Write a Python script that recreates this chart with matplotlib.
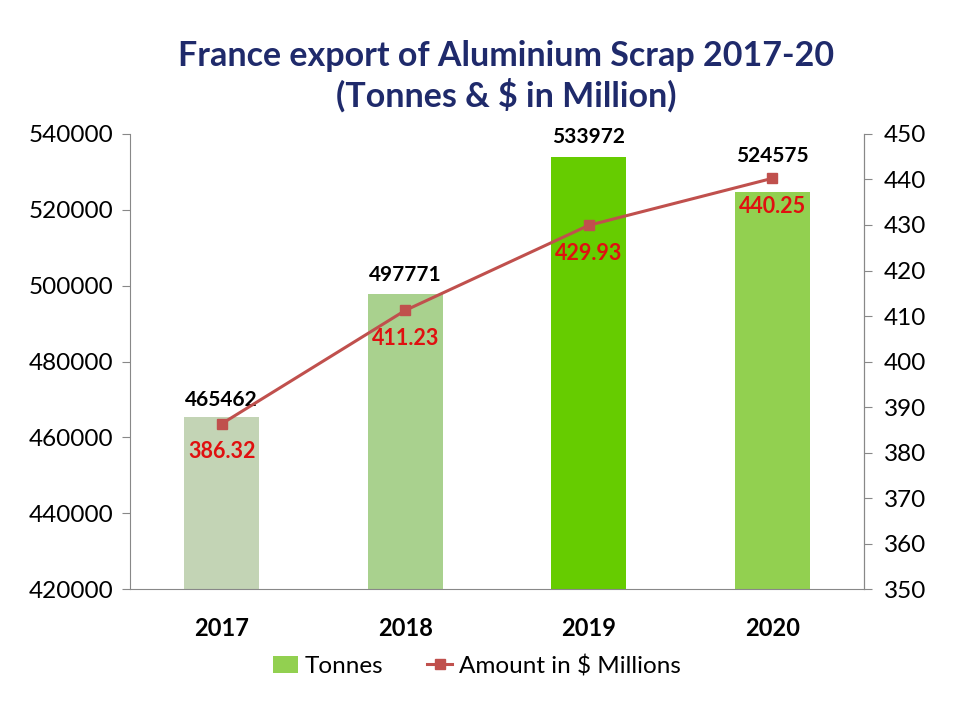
import matplotlib.pyplot as plt
from matplotlib.lines import Line2D
from matplotlib.patches import Patch

years = ["2017", "2018", "2019", "2020"]
tonnes = [465462, 497771, 533972, 524575]
amount = [386.32, 411.23, 429.93, 440.25]
bar_colors = ["#C3D4B5", "#A9D18E", "#66CC00", "#92D050"]

plt.rcParams['font.family'] = ['Lato', 'DejaVu Sans']

fig = plt.figure(figsize=(9.6, 7.2), dpi=100)
ax = fig.add_axes([0.1354, 0.1819, 0.7646, 0.632])
x = list(range(len(years)))
ax.bar(x, tonnes, width=0.41, color=bar_colors, zorder=2)
ax.set_ylim(420000, 540000)
ax.set_yticks(range(420000, 540001, 20000))
ax.set_xlim(-0.5, 3.5)
ax.set_xticks(x)
ax.set_xticklabels(years, fontsize=17, fontweight='bold')
ax.tick_params(axis='y', labelsize=17.5, direction='out', length=6, color='#888888', pad=6)
ax.tick_params(axis='x', length=0, pad=20)
ax.spines['top'].set_visible(False)
for s in ['left', 'bottom', 'right']:
    ax.spines[s].set_color('#888888')
label_offsets = [12, 14, 14, 26]
for i, v in enumerate(tonnes):
    ax.annotate(str(v), (i, v), xytext=(0, label_offsets[i]), textcoords='offset points',
                ha='center', va='center', fontsize=15, fontweight='bold', color='black')

ax2 = ax.twinx()
ax2.plot(x, amount, color='#C0504D', lw=2.2, marker='s', markersize=6.5, zorder=3)
ax2.set_ylim(350, 450)
ax2.set_yticks(range(350, 451, 10))
ax2.tick_params(axis='y', labelsize=17.5, direction='out', length=6, color='#888888', pad=8)
for s in ['top', 'left', 'bottom']:
    ax2.spines[s].set_visible(False)
ax2.spines['right'].set_color('#888888')
for i, v in enumerate(amount):
    ax2.annotate(f"{v:.2f}", (i, v), xytext=(0, -20), textcoords='offset points',
                 ha='center', va='center', fontsize=15.5, fontweight='bold', color='#E01010')

fig.text(0.527, 0.894, "France export of Aluminium Scrap 2017-20\n(Tonnes & $ in Million)",
         ha='center', va='center', fontsize=24.5, fontweight='bold', color='#1F2A6B',
         linespacing=1.2)

handles = [Patch(facecolor='#92D050', label='Tonnes'),
           Line2D([0], [0], color='#C0504D', lw=2.2, marker='s', markersize=6.5,
                  label='Amount in $ Millions')]
fig.legend(handles=handles, loc='center', bbox_to_anchor=(0.497, 0.075), ncol=2,
           frameon=False, fontsize=17.5, handlelength=1.0, handletextpad=0.3,
           columnspacing=1.8)

fig.savefig("out.png", dpi=100)
